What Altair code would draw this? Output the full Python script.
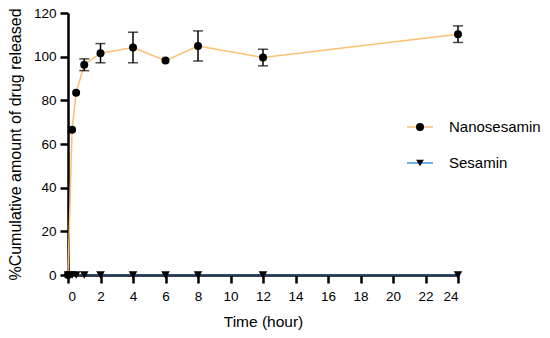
import altair as alt
import pandas as pd

times = [0, 0.25, 0.5, 1, 2, 4, 6, 8, 12, 24]
nano = [0, 66.5, 83.5, 96.3, 101.6, 104.2, 98.2, 104.9, 99.6, 110.3]
nano_sd = [0, 0, 0, 2.7, 4.4, 7.0, 0, 6.9, 3.8, 3.8]
sesamin = [0, 0, 0, 0, 0, 0, 0, 0, 0, 0]
series = ["Nanosesamin", "Sesamin"]
x_ticks = list(range(0, 25, 2))
y_ticks = [0, 20, 40, 60, 80, 100, 120]

ORANGE = "#fdbf72"
BLUE_PLOT = "#25567f"
BLUE_LEG = "#3a9be0"
FONT = "Liberation Sans"

df_n = pd.DataFrame({"t": times, "v": nano, "sd": nano_sd})
df_n["lo"] = df_n["v"] - df_n["sd"]
df_n["hi"] = df_n["v"] + df_n["sd"]
df_e = df_n[df_n["sd"] > 0]
df_s = pd.DataFrame({"t": times, "v": sesamin})

W, H = 390, 262
TOP = 5

xs = alt.Scale(domain=[0, 24], nice=False)
ys = alt.Scale(domain=[0, 120], nice=False)
xa = alt.Axis(values=x_ticks, title="Time (hour)", format="d", labelOverlap=False,
              tickCount=13, labelPadding=6, titlePadding=12, titleFontSize=15.5)
ya = alt.Axis(values=y_ticks, title="%Cumulative amount of drug released", labelOverlap=False,
              tickCount=7, labelPadding=4, titlePadding=10, titleFontSize=16)


def X(f):
    return alt.X(f, scale=xs, axis=xa)


def Y(f):
    return alt.Y(f, scale=ys, axis=ya)


line_n = alt.Chart(df_n).mark_line(color=ORANGE, strokeWidth=1.5).encode(x=X("t:Q"), y=Y("v:Q"))
rule_e = alt.Chart(df_e).mark_rule(color="black", strokeWidth=1.5).encode(
    x=X("t:Q"), y=Y("lo:Q"), y2="hi:Q")
cap_lo = alt.Chart(df_e).mark_tick(color="black", orient="horizontal", size=10, thickness=1.5).encode(
    x=X("t:Q"), y=Y("lo:Q"))
cap_hi = alt.Chart(df_e).mark_tick(color="black", orient="horizontal", size=10, thickness=1.5).encode(
    x=X("t:Q"), y=Y("hi:Q"))
pts_n = alt.Chart(df_n).mark_point(shape="circle", filled=True, color="black", size=64, opacity=1).encode(
    x=X("t:Q"), y=Y("v:Q"))
line_s = alt.Chart(df_s).mark_line(color=BLUE_PLOT, strokeWidth=1.5).encode(x=X("t:Q"), y=Y("v:Q"))
pts_s = alt.Chart(df_s).mark_point(shape="triangle-down", filled=True, color="black", size=75, opacity=1).encode(
    x=X("t:Q"), y=Y("v:Q"))

leg_df = pd.DataFrame({"name": [series[0]]})
leg_df2 = pd.DataFrame({"name": [series[1]]})
LX1, LX2, LXM, LXT = 339, 365, 352, 381
LY1, LY2 = 114, 150


def legend_entry(d, yy, col, shape, size):
    r = alt.Chart(d).mark_rule(color=col, strokeWidth=1.5).encode(
        x=alt.value(LX1), x2=alt.value(LX2), y=alt.value(yy))
    p = alt.Chart(d).mark_point(shape=shape, filled=True, color="black", size=size, opacity=1).encode(
        x=alt.value(LXM), y=alt.value(yy))
    t = alt.Chart(d).mark_text(align="left", baseline="middle", font=FONT, fontSize=15, color="black").encode(
        x=alt.value(LXT), y=alt.value(yy), text="name:N")
    return r + p + t


leg1 = legend_entry(leg_df, LY1, ORANGE, "circle", 64)
leg2 = legend_entry(leg_df2, LY2, BLUE_LEG, "triangle-down", 60)

chart = alt.layer(line_n, rule_e, cap_lo, cap_hi, pts_n, line_s, pts_s, leg1, leg2).properties(
    width=W, height=H,
    autosize=alt.AutoSizeParams(type="none"),
    padding={"left": 60, "top": TOP, "right": 550 - 16 - 60 - W, "bottom": 338 - 16 - TOP - H},
).configure_view(stroke=None).configure_axis(
    grid=False,
    domainColor="black", domainWidth=2.5,
    tickColor="black", tickWidth=2.5, tickSize=8,
    labelFont=FONT, labelFontSize=13.5, labelColor="black",
    titleFont=FONT, titleColor="black", titleFontWeight="normal",
)

chart.save("out.html", embed_options={"renderer": "svg", "actions": False})
